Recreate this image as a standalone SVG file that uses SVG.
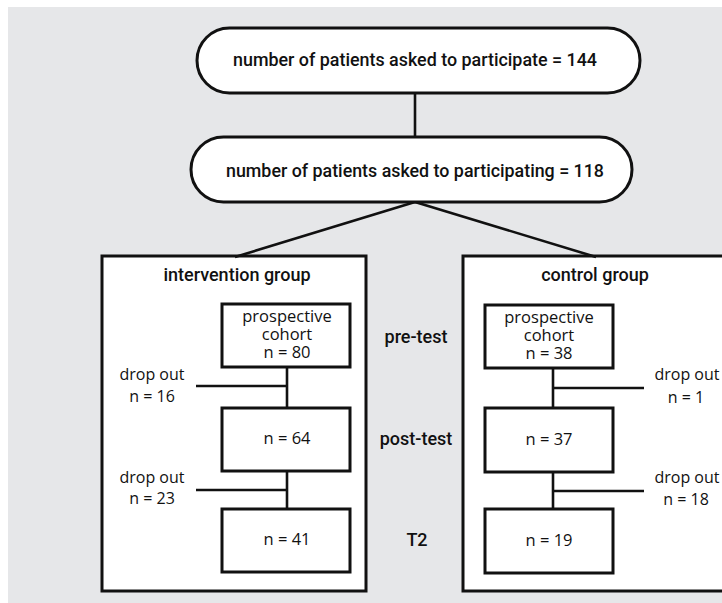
<svg xmlns="http://www.w3.org/2000/svg" width="722" height="603" viewBox="0 0 722 603">
<style>
.bg{fill:#e6e7e9}
.pill,.box,.inner{fill:#fff;stroke:#111;stroke-width:3}
.con{stroke:#111;stroke-width:2.6;fill:none}
.din{font-family:Roboto,"DejaVu Sans",sans-serif;font-size:18px;font-weight:500;fill:#111;text-anchor:middle}
.my{font-family:"Open Sans","Noto Sans",sans-serif;font-size:16px;fill:#111;text-anchor:middle}
.in{font-size:16.5px}
</style>
<rect class="bg" x="8" y="7" width="714" height="596"/>
<g id="intervention">
<rect class="box" x="102" y="256" width="264" height="335"/>
<text class="din" x="237" y="281">intervention group</text>
</g>
<g id="control">
<rect class="box" x="463" y="256" width="270" height="335"/>
<text class="din" x="595" y="281">control group</text>
</g>
<g id="connectors">
<line class="con" x1="415" y1="93" x2="415" y2="137"/>
<line class="con" x1="415" y1="202" x2="235" y2="257"/>
<line class="con" x1="415" y1="202" x2="596" y2="257"/>
<line class="con" x1="287" y1="367" x2="287" y2="408"/>
<line class="con" x1="196" y1="386" x2="287" y2="386"/>
<line class="con" x1="287" y1="471" x2="287" y2="509"/>
<line class="con" x1="196" y1="490" x2="287" y2="490"/>
<line class="con" x1="553" y1="367" x2="553" y2="408"/>
<line class="con" x1="553" y1="388" x2="644" y2="388"/>
<line class="con" x1="553" y1="472" x2="553" y2="509"/>
<line class="con" x1="553" y1="491" x2="644" y2="491"/>
</g>
<g id="n144">
<rect class="pill" x="197" y="28" width="443" height="65" rx="32.5"/>
<text class="din" x="415" y="66" textLength="364" lengthAdjust="spacingAndGlyphs">number of patients asked to participate = 144</text>
</g>
<g id="n118">
<rect class="pill" x="191" y="137" width="441" height="65" rx="32.5"/>
<text class="din" x="415" y="177" textLength="378" lengthAdjust="spacingAndGlyphs">number of patients asked to participating = 118</text>
</g>
<g id="i80">
<rect class="inner" x="222" y="304" width="128" height="63"/>
<text class="my in" x="287" y="322">prospective</text>
<text class="my in" x="287" y="340">cohort</text>
<text class="my in" x="287" y="358">n = 80</text>
</g>
<g id="i64">
<rect class="inner" x="222" y="408" width="128" height="63"/>
<text class="my in" x="287" y="444">n = 64</text>
</g>
<g id="i41">
<rect class="inner" x="222" y="509" width="128" height="63"/>
<text class="my in" x="287" y="545">n = 41</text>
</g>
<g id="c38">
<rect class="inner" x="485" y="305" width="128" height="63"/>
<text class="my in" x="549" y="323">prospective</text>
<text class="my in" x="549" y="341">cohort</text>
<text class="my in" x="549" y="359">n = 38</text>
</g>
<g id="c37">
<rect class="inner" x="485" y="408" width="128" height="64"/>
<text class="my in" x="549" y="445">n = 37</text>
</g>
<g id="c19">
<rect class="inner" x="485" y="509" width="128" height="64"/>
<text class="my in" x="549" y="546">n = 19</text>
</g>
<g id="drop16">
<text class="my" x="152" y="380">drop out</text>
<text class="my" x="152" y="402">n = 16</text>
</g>
<g id="drop23">
<text class="my" x="152" y="483">drop out</text>
<text class="my" x="152" y="504">n = 23</text>
</g>
<g id="drop1">
<text class="my" x="687" y="380">drop out</text>
<text class="my" x="686" y="403">n = 1</text>
</g>
<g id="drop18">
<text class="my" x="687" y="483">drop out</text>
<text class="my" x="686" y="505">n = 18</text>
</g>
<g id="stages">
<text class="din" x="416" y="343">pre-test</text>
<text class="din" x="416" y="445">post-test</text>
<text class="din" x="417" y="546">T2</text>
</g>
</svg>
